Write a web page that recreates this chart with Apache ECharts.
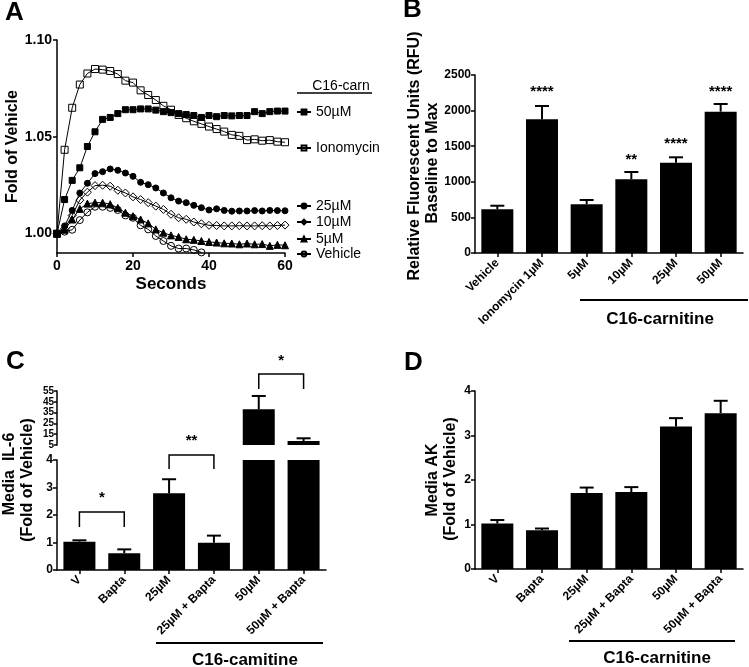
<!DOCTYPE html>
<html>
<head>
<meta charset="utf-8">
<script src="https://cdn.jsdelivr.net/npm/echarts@6/dist/echarts.min.js"></script>
<style>
  html, body { margin: 0; padding: 0; background: #fff; }
  #main { width: 749px; height: 667px; }
</style>
</head>
<body>
<div id="main"></div>
<script>
// ---- panel A: calcium trace, fold of vehicle ----
const tA = [0, 2, 4, 6, 8, 10, 12, 14, 16, 18, 20, 22, 24, 26, 28, 30, 32, 34, 36, 38, 40, 42, 44, 46, 48, 50, 52, 54, 56, 58, 60];
const c50A = [1.000, 1.0176, 1.0275, 1.034, 1.045, 1.0526, 1.059, 1.060, 1.062, 1.064, 1.064, 1.0644, 1.0644, 1.0638, 1.063, 1.0625, 1.062, 1.0615, 1.061, 1.060, 1.061, 1.0604, 1.061, 1.0608, 1.061, 1.061, 1.063, 1.062, 1.063, 1.0633, 1.0633];
const ionoA = [1.000, 1.0433, 1.065, 1.077, 1.0827, 1.085, 1.0847, 1.084, 1.0824, 1.079, 1.078, 1.074, 1.0716, 1.069, 1.066, 1.064, 1.0613, 1.0596, 1.058, 1.0567, 1.0553, 1.054, 1.0527, 1.051, 1.0505, 1.0483, 1.0487, 1.048, 1.0483, 1.0475, 1.0472];
const c25A = [1.000, 1.004, 1.012, 1.021, 1.026, 1.031, 1.032, 1.0334, 1.0327, 1.0313, 1.0296, 1.0265, 1.0253, 1.0236, 1.021, 1.0185, 1.0168, 1.016, 1.0146, 1.0134, 1.0122, 1.0128, 1.012, 1.0116, 1.0117, 1.0117, 1.0119, 1.0117, 1.012, 1.0119, 1.0118];
const c10A = [1.000, 1.0026, 1.0094, 1.0173, 1.0214, 1.0248, 1.025, 1.0245, 1.0224, 1.021, 1.019, 1.0176, 1.016, 1.0142, 1.0125, 1.010, 1.0082, 1.0074, 1.006, 1.0051, 1.0043, 1.0042, 1.004, 1.004, 1.0041, 1.004, 1.004, 1.0041, 1.004, 1.0042, 1.0044];
const c5A = [1.000, 1.002, 1.0073, 1.0128, 1.0155, 1.016, 1.016, 1.0152, 1.0133, 1.0108, 1.009, 1.0073, 1.0053, 1.0022, 1.0005, 0.9991, 0.9983, 0.9971, 0.9968, 0.9962, 0.9957, 0.9954, 0.995, 0.9949, 0.9945, 0.9949, 0.9945, 0.9946, 0.9937, 0.9942, 0.994];
const vehA = [1.000, 1.001, 1.002, 1.007, 1.011, 1.0139, 1.0139, 1.0133, 1.0122, 1.0094, 1.0082, 1.0043, 1.0022, 0.9988, 0.9962, 0.9937, 0.9923, 0.9923, 0.9916, 0.9903];
const yTicksA = [1.00, 1.05, 1.10];

// ---- panel B: RFU baseline to max ----
const catB = ['Vehicle', 'Ionomycin 1µM', '5µM', '10µM', '25µM', '50µM'];
const valB = [614, 1878, 684, 1035, 1268, 1985];
const errB = [664, 2065, 744, 1138, 1344, 2093];
const sigB = ['', '****', '', '**', '****', '****'];
const sigYB = [0, 2300, 0, 1350, 1575, 2300];

// ---- panel C: media IL-6 (broken axis) ----
const catC = ['V', 'Bapta', '25µM', '25µM + Bapta', '50µM', '50µM + Bapta'];
const valC = [1.03, 0.61, 2.79, 0.99, 38.0, 8.7];
const errC = [1.08, 0.75, 3.30, 1.25, 50.4, 11.2];
const brkFromC = [0, 2, 4];
const brkToC = [1, 3, 5];
const brkTopC = [2.11, 4.18, 70.7];
const brkLegC = [1.56, 3.67, 56.9];
const brkStarC = ['*', '**', '*'];
const brkStarYC = [2.73, 4.8, 85.5];
const brkPartC = [0, 0, 1]; // 0 = lower axis segment, 1 = upper segment

// ---- panel D: media AK ----
const catD = ['V', 'Bapta', '25µM', '25µM + Bapta', '50µM', '50µM + Bapta'];
const valD = [1.02, 0.87, 1.71, 1.73, 3.20, 3.50];
const errD = [1.10, 0.91, 1.83, 1.84, 3.39, 3.78];

const FONT = '"Liberation Sans", Arial, sans-serif';
const BLACK = '#000';

let chart = echarts.init(document.getElementById('main'), null, {renderer: 'canvas'});

function axisLineStyle() {
  return {show: true, onZero: false, lineStyle: {color: BLACK, width: 1.5}};
}
function tickStyle(extra) {
  return Object.assign({show: true, length: 4, lineStyle: {color: BLACK, width: 1.5}}, extra || {});
}
function labelStyle(size, extra) {
  return Object.assign({color: BLACK, fontFamily: FONT, fontWeight: 'bold', fontSize: size}, extra || {});
}

function catXAxis(grid, cats, show) {
  return {
    type: 'category', gridIndex: grid, data: cats, show: show,
    axisLine: axisLineStyle(),
    axisTick: tickStyle({alignWithLabel: true}),
    axisLabel: labelStyle(12, {rotate: 45, interval: 0, margin: 8})
  };
}

function barSeries(xi, yi, vals) {
  return {
    type: 'bar', xAxisIndex: xi, yAxisIndex: yi, data: vals,
    barWidth: 32, clip: true, itemStyle: {color: BLACK}, silent: true
  };
}

// error bar: stem from bar top up to top of error + cap
function errSeries(xi, yi, vals, errs) {
  return {
    type: 'custom', xAxisIndex: xi, yAxisIndex: yi, clip: true, silent: true,
    data: vals.map((v, i) => [i, v, errs[i]]),
    renderItem: function (params, api) {
      const p0 = api.coord([api.value(0), api.value(1)]);
      const p1 = api.coord([api.value(0), api.value(2)]);
      const cap = 7;
      return {
        type: 'group', children: [
          {type: 'line', shape: {x1: p0[0], y1: p0[1], x2: p1[0], y2: p1[1]}, style: {stroke: BLACK, lineWidth: 2}},
          {type: 'line', shape: {x1: p1[0] - cap, y1: p1[1], x2: p1[0] + cap, y2: p1[1]}, style: {stroke: BLACK, lineWidth: 2}}
        ]
      };
    }
  };
}

// star labels above bars
function sigSeries(xi, yi, stars, ys) {
  return {
    type: 'custom', xAxisIndex: xi, yAxisIndex: yi, silent: true,
    data: ys.map((y, i) => [i, y]),
    renderItem: function (params, api) {
      const s = stars[params.dataIndex];
      if (!s) return null;
      const p = api.coord([api.value(0), api.value(1)]);
      return {type: 'text', x: p[0], y: p[1] + 3,
        style: {text: s, fill: BLACK, font: 'bold 15px ' + FONT, textAlign: 'center', textVerticalAlign: 'middle'}};
    }
  };
}

// comparison brackets for panel C
function bracketSeries(xi, yi, part) {
  const idx = brkPartC.map((p, i) => p === part ? i : -1).filter(i => i >= 0);
  return {
    type: 'custom', xAxisIndex: xi, yAxisIndex: yi, silent: true, clip: false,
    data: idx.map(i => [brkFromC[i], brkToC[i], brkTopC[i], brkLegC[i], brkStarYC[i], i]),
    renderItem: function (params, api) {
      const a = api.coord([api.value(0), api.value(2)]);
      const b = api.coord([api.value(1), api.value(2)]);
      const leg = api.coord([api.value(0), api.value(3)]);
      const st = api.coord([(api.value(0) + api.value(1)) / 2, api.value(4)]);
      const ls = {stroke: BLACK, lineWidth: 1.5};
      return {
        type: 'group', children: [
          {type: 'polyline', shape: {points: [[a[0], leg[1]], a, b, [b[0], leg[1]]]}, style: Object.assign({fill: 'none'}, ls)},
          {type: 'text', x: (a[0] + b[0]) / 2, y: st[1] + 3,
            style: {text: brkStarC[api.value(5)], fill: BLACK, font: 'bold 15px ' + FONT, textAlign: 'center', textVerticalAlign: 'middle'}}
        ]
      };
    }
  };
}

function lineSeries(name, vals, symbol, size, filled) {
  return {
    name: name, type: 'line', xAxisIndex: 0, yAxisIndex: 0,
    data: vals.map((v, i) => [tA[i], v]),
    symbol: symbol, symbolSize: size, showAllSymbol: true, silent: true,
    lineStyle: {color: BLACK, width: 1},
    itemStyle: {color: filled ? BLACK : 'rgba(0,0,0,0)', borderColor: BLACK, borderWidth: 1}
  };
}

const legendNames = ['50µM', 'Ionomycin', '25µM', '10µM', '5µM', 'Vehicle'];
const legendY = [113, 149, 207, 223, 240, 255];

function textEl(x, y, text, size, rot, extra) {
  return {
    type: 'text', x: x, y: y, rotation: rot || 0, silent: true,
    style: Object.assign({text: text, fill: BLACK, font: 'bold ' + size + 'px ' + FONT, textAlign: 'center', textVerticalAlign: 'middle'}, extra || {})
  };
}
function lineEl(x1, y1, x2, y2, w) {
  return {type: 'line', silent: true, shape: {x1: x1, y1: y1, x2: x2, y2: y2}, style: {stroke: BLACK, lineWidth: w || 2}};
}

const option = {
  backgroundColor: '#fff',
  animation: false,
  textStyle: {fontFamily: FONT},
  grid: [
    {left: 57, top: 40, width: 228, height: 213},   // A
    {left: 475, top: 75, width: 268, height: 178},  // B
    {left: 57, top: 460, width: 269, height: 110},  // C lower
    {left: 57, top: 391, width: 269, height: 54},   // C upper
    {left: 475, top: 391, width: 268, height: 178}  // D
  ],
  xAxis: [
    {
      type: 'value', gridIndex: 0, min: 0, max: 60, interval: 20,
      name: 'Seconds', nameLocation: 'middle', nameGap: 23,
      nameTextStyle: labelStyle(17),
      axisLine: axisLineStyle(), axisTick: tickStyle(), splitLine: {show: false},
      axisLabel: labelStyle(14, {margin: 6})
    },
    catXAxis(1, catB, true),
    catXAxis(2, catC, true),
    catXAxis(3, catC, false),
    catXAxis(4, catD, true)
  ],
  yAxis: [
    {
      type: 'value', gridIndex: 0, min: 0.99, max: 1.10,
      name: 'Fold of Vehicle', nameLocation: 'middle', nameGap: 36,
      nameTextStyle: labelStyle(16),
      axisLine: axisLineStyle(),
      axisTick: tickStyle({customValues: yTicksA}),
      axisLabel: labelStyle(14, {customValues: yTicksA, formatter: v => v.toFixed(2), margin: 5}),
      splitLine: {show: false}
    },
    {
      type: 'value', gridIndex: 1, min: 0, max: 2500, interval: 500,
      axisLine: axisLineStyle(), axisTick: tickStyle(), splitLine: {show: false},
      axisLabel: labelStyle(12, {margin: 4, formatter: v => String(v)})
    },
    {
      type: 'value', gridIndex: 2, min: 0, max: 4, interval: 1,
      axisLine: axisLineStyle(), axisTick: tickStyle(), splitLine: {show: false},
      axisLabel: labelStyle(12, {margin: 4})
    },
    {
      type: 'value', gridIndex: 3, min: 5, max: 55, interval: 10,
      axisLine: axisLineStyle(), axisTick: tickStyle({length: 3}), splitLine: {show: false},
      axisLabel: labelStyle(10, {margin: 3})
    },
    {
      type: 'value', gridIndex: 4, min: 0, max: 4, interval: 1,
      axisLine: axisLineStyle(), axisTick: tickStyle(), splitLine: {show: false},
      axisLabel: labelStyle(12, {margin: 4})
    }
  ],
  legend: legendNames.map((n, i) => ({
    data: [n], left: 296, top: legendY[i] - 8, padding: 0,
    itemWidth: 14, itemHeight: 6, itemGap: 0, selectedMode: false,
    textStyle: {color: BLACK, fontFamily: FONT, fontSize: 14}
  })),
  series: [
    lineSeries('50µM', c50A, 'rect', 6, true),
    lineSeries('Ionomycin', ionoA, 'rect', 7, false),
    lineSeries('25µM', c25A, 'circle', 6, true),
    lineSeries('10µM', c10A, 'diamond', 8, false),
    lineSeries('5µM', c5A, 'triangle', 7, true),
    lineSeries('Vehicle', vehA, 'circle', 7, false),

    barSeries(1, 1, valB),
    errSeries(1, 1, valB, errB),
    sigSeries(1, 1, sigB, sigYB),

    barSeries(2, 2, valC),
    errSeries(2, 2, valC, errC),
    barSeries(3, 3, valC),
    errSeries(3, 3, valC, errC),
    bracketSeries(2, 2, 0),
    bracketSeries(3, 3, 1),

    barSeries(4, 4, valD),
    errSeries(4, 4, valD, errD)
  ],
  graphic: [
    // panel letters
    textEl(5, 13, 'A', 26, 0, {textAlign: 'left'}),
    textEl(403, 10, 'B', 26, 0, {textAlign: 'left'}),
    textEl(6, 362, 'C', 26, 0, {textAlign: 'left'}),
    textEl(404, 363, 'D', 26, 0, {textAlign: 'left'}),
    // legend header of A
    textEl(341, 86, 'C16-carn', 14, 0, {font: '14px ' + FONT}),
    lineEl(297, 93, 372, 93, 1.5),
    // y titles
    textEl(415, 156, 'Relative Fluorescent Units (RFU)', 16, Math.PI / 2),
    textEl(433, 163, 'Baseline to Max', 16, Math.PI / 2),
    textEl(10, 474, 'Media  IL-6', 16, Math.PI / 2),
    textEl(28, 480, '(Fold of Vehicle)', 16, Math.PI / 2),
    textEl(433, 480, 'Media AK', 16, Math.PI / 2),
    textEl(451, 479, '(Fold of Vehicle)', 16, Math.PI / 2),
    // group labels
    lineEl(580, 300, 748, 300, 2),
    textEl(660, 319, 'C16-carnitine', 17),
    lineEl(156, 643, 323, 643, 2),
    textEl(245, 660, 'C16-camitine', 17),
    lineEl(569, 641, 735, 641, 2),
    textEl(657, 658, 'C16-carnitine', 17)
  ]
};

chart.setOption(option);
</script>
</body>
</html>
